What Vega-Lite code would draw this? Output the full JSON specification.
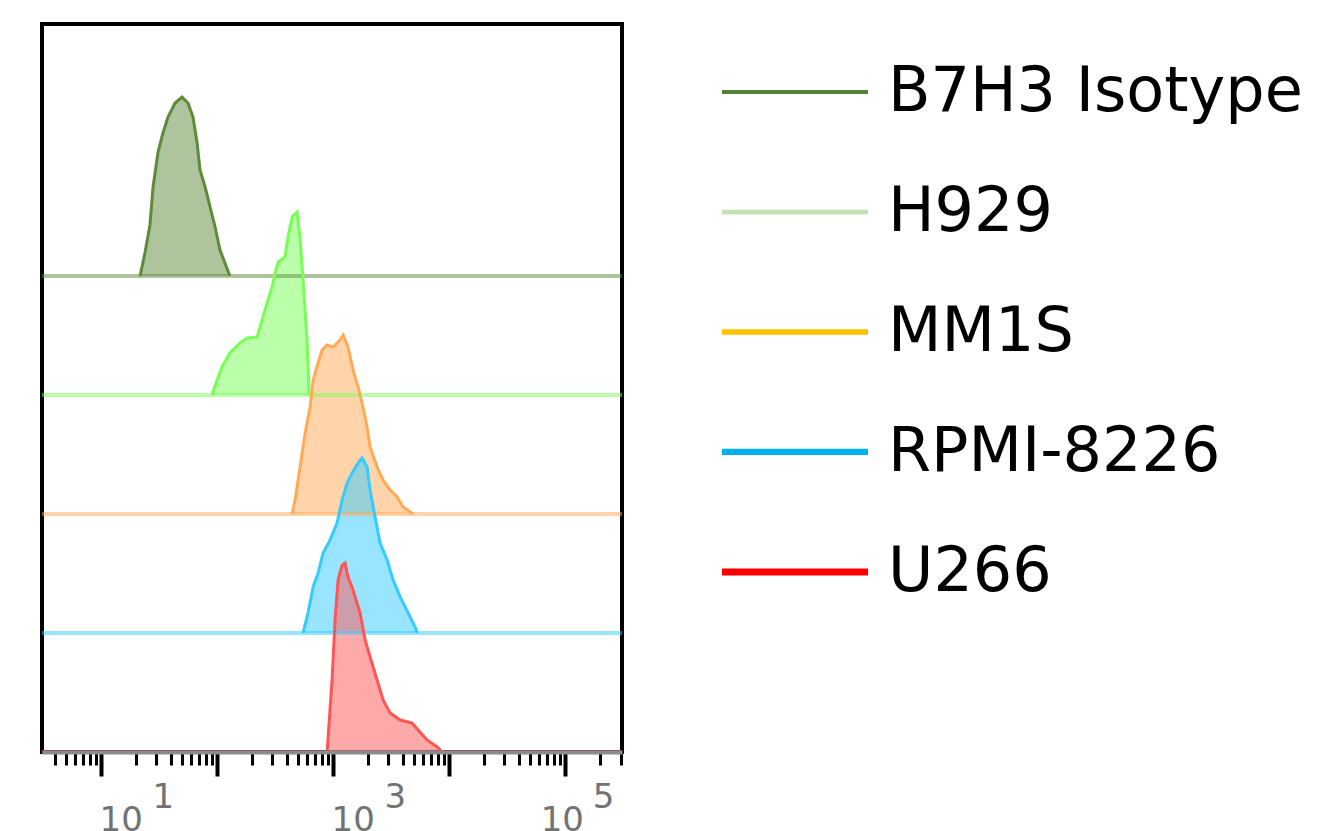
{
  "$schema": "https://vega.github.io/schema/vega-lite/v6.json",
  "autosize": {"type": "pad"},
  "padding": {"left": 38, "top": 22, "right": 0, "bottom": 0},
  "background": "white",
  "spacing": 88,
  "bounds": "flush",
  "resolve": {"scale": {"color": "independent", "strokeWidth": "independent", "fill": "independent"}},
  "config": {
    "view": {"stroke": null},
    "axis": {"grid": false}
  },
  "datasets": {
    "hist": [
      {"s": "B7H3 Isotype", "fl": 21.7, "lvl": 4.0, "base": 4},
      {"s": "B7H3 Isotype", "fl": 23.9, "lvl": 4.193, "base": 4},
      {"s": "B7H3 Isotype", "fl": 26.4, "lvl": 4.429, "base": 4},
      {"s": "B7H3 Isotype", "fl": 28.1, "lvl": 4.748, "base": 4},
      {"s": "B7H3 Isotype", "fl": 31.0, "lvl": 5.042, "base": 4},
      {"s": "B7H3 Isotype", "fl": 34.2, "lvl": 5.202, "base": 4},
      {"s": "B7H3 Isotype", "fl": 37.8, "lvl": 5.336, "base": 4},
      {"s": "B7H3 Isotype", "fl": 43.5, "lvl": 5.454, "base": 4},
      {"s": "B7H3 Isotype", "fl": 49.9, "lvl": 5.504, "base": 4},
      {"s": "B7H3 Isotype", "fl": 56.2, "lvl": 5.454, "base": 4},
      {"s": "B7H3 Isotype", "fl": 62.1, "lvl": 5.336, "base": 4},
      {"s": "B7H3 Isotype", "fl": 67.3, "lvl": 5.118, "base": 4},
      {"s": "B7H3 Isotype", "fl": 71.3, "lvl": 4.891, "base": 4},
      {"s": "B7H3 Isotype", "fl": 78.9, "lvl": 4.748, "base": 4},
      {"s": "B7H3 Isotype", "fl": 87.1, "lvl": 4.58, "base": 4},
      {"s": "B7H3 Isotype", "fl": 96.2, "lvl": 4.412, "base": 4},
      {"s": "B7H3 Isotype", "fl": 106, "lvl": 4.218, "base": 4},
      {"s": "B7H3 Isotype", "fl": 117, "lvl": 4.109, "base": 4},
      {"s": "B7H3 Isotype", "fl": 129, "lvl": 4.0, "base": 4},

      {"s": "H929", "fl": 90.6, "lvl": 3.0, "base": 3},
      {"s": "H929", "fl": 100, "lvl": 3.126, "base": 3},
      {"s": "H929", "fl": 110, "lvl": 3.235, "base": 3},
      {"s": "H929", "fl": 129, "lvl": 3.353, "base": 3},
      {"s": "H929", "fl": 158, "lvl": 3.437, "base": 3},
      {"s": "H929", "fl": 182, "lvl": 3.479, "base": 3},
      {"s": "H929", "fl": 221, "lvl": 3.487, "base": 3},
      {"s": "H929", "fl": 244, "lvl": 3.63, "base": 3},
      {"s": "H929", "fl": 270, "lvl": 3.773, "base": 3},
      {"s": "H929", "fl": 298, "lvl": 3.908, "base": 3},
      {"s": "H929", "fl": 316, "lvl": 4.025, "base": 3},
      {"s": "H929", "fl": 336, "lvl": 4.118, "base": 3},
      {"s": "H929", "fl": 385, "lvl": 4.16, "base": 3},
      {"s": "H929", "fl": 409, "lvl": 4.328, "base": 3},
      {"s": "H929", "fl": 444, "lvl": 4.496, "base": 3},
      {"s": "H929", "fl": 490, "lvl": 4.538, "base": 3},
      {"s": "H929", "fl": 520, "lvl": 4.303, "base": 3},
      {"s": "H929", "fl": 551, "lvl": 3.966, "base": 3},
      {"s": "H929", "fl": 597, "lvl": 3.462, "base": 3},
      {"s": "H929", "fl": 621, "lvl": 3.0, "base": 3},

      {"s": "MM1S", "fl": 444, "lvl": 2.0, "base": 2},
      {"s": "MM1S", "fl": 470, "lvl": 2.118, "base": 2},
      {"s": "MM1S", "fl": 520, "lvl": 2.395, "base": 2},
      {"s": "MM1S", "fl": 574, "lvl": 2.681, "base": 2},
      {"s": "MM1S", "fl": 634, "lvl": 2.899, "base": 2},
      {"s": "MM1S", "fl": 673, "lvl": 3.126, "base": 2},
      {"s": "MM1S", "fl": 743, "lvl": 3.269, "base": 2},
      {"s": "MM1S", "fl": 804, "lvl": 3.378, "base": 2},
      {"s": "MM1S", "fl": 887, "lvl": 3.42, "base": 2},
      {"s": "MM1S", "fl": 1000, "lvl": 3.403, "base": 2},
      {"s": "MM1S", "fl": 1148, "lvl": 3.462, "base": 2},
      {"s": "MM1S", "fl": 1219, "lvl": 3.504, "base": 2},
      {"s": "MM1S", "fl": 1346, "lvl": 3.403, "base": 2},
      {"s": "MM1S", "fl": 1486, "lvl": 3.21, "base": 2},
      {"s": "MM1S", "fl": 1644, "lvl": 3.067, "base": 2},
      {"s": "MM1S", "fl": 1778, "lvl": 2.933, "base": 2},
      {"s": "MM1S", "fl": 1963, "lvl": 2.731, "base": 2},
      {"s": "MM1S", "fl": 2084, "lvl": 2.563, "base": 2},
      {"s": "MM1S", "fl": 2393, "lvl": 2.395, "base": 2},
      {"s": "MM1S", "fl": 2698, "lvl": 2.286, "base": 2},
      {"s": "MM1S", "fl": 3097, "lvl": 2.202, "base": 2},
      {"s": "MM1S", "fl": 3565, "lvl": 2.143, "base": 2},
      {"s": "MM1S", "fl": 4009, "lvl": 2.059, "base": 2},
      {"s": "MM1S", "fl": 4797, "lvl": 2.008, "base": 2},
      {"s": "MM1S", "fl": 4898, "lvl": 2.0, "base": 2},

      {"s": "RPMI-8226", "fl": 551, "lvl": 1.0, "base": 1},
      {"s": "RPMI-8226", "fl": 608, "lvl": 1.168, "base": 1},
      {"s": "RPMI-8226", "fl": 673, "lvl": 1.387, "base": 1},
      {"s": "RPMI-8226", "fl": 743, "lvl": 1.504, "base": 1},
      {"s": "RPMI-8226", "fl": 820, "lvl": 1.672, "base": 1},
      {"s": "RPMI-8226", "fl": 942, "lvl": 1.782, "base": 1},
      {"s": "RPMI-8226", "fl": 1081, "lvl": 1.924, "base": 1},
      {"s": "RPMI-8226", "fl": 1197, "lvl": 2.118, "base": 1},
      {"s": "RPMI-8226", "fl": 1321, "lvl": 2.261, "base": 1},
      {"s": "RPMI-8226", "fl": 1459, "lvl": 2.345, "base": 1},
      {"s": "RPMI-8226", "fl": 1644, "lvl": 2.429, "base": 1},
      {"s": "RPMI-8226", "fl": 1778, "lvl": 2.471, "base": 1},
      {"s": "RPMI-8226", "fl": 1963, "lvl": 2.395, "base": 1},
      {"s": "RPMI-8226", "fl": 2084, "lvl": 2.202, "base": 1},
      {"s": "RPMI-8226", "fl": 2301, "lvl": 1.975, "base": 1},
      {"s": "RPMI-8226", "fl": 2541, "lvl": 1.756, "base": 1},
      {"s": "RPMI-8226", "fl": 2924, "lvl": 1.613, "base": 1},
      {"s": "RPMI-8226", "fl": 3289, "lvl": 1.445, "base": 1},
      {"s": "RPMI-8226", "fl": 3784, "lvl": 1.303, "base": 1},
      {"s": "RPMI-8226", "fl": 4436, "lvl": 1.168, "base": 1},
      {"s": "RPMI-8226", "fl": 5093, "lvl": 1.05, "base": 1},
      {"s": "RPMI-8226", "fl": 5297, "lvl": 1.0, "base": 1},

      {"s": "U266", "fl": 888, "lvl": 0.0, "base": 0},
      {"s": "U266", "fl": 980, "lvl": 0.605, "base": 0},
      {"s": "U266", "fl": 1040, "lvl": 1.109, "base": 0},
      {"s": "U266", "fl": 1104, "lvl": 1.445, "base": 0},
      {"s": "U266", "fl": 1197, "lvl": 1.571, "base": 0},
      {"s": "U266", "fl": 1268, "lvl": 1.588, "base": 0},
      {"s": "U266", "fl": 1346, "lvl": 1.471, "base": 0},
      {"s": "U266", "fl": 1486, "lvl": 1.361, "base": 0},
      {"s": "U266", "fl": 1710, "lvl": 1.168, "base": 0},
      {"s": "U266", "fl": 1888, "lvl": 0.941, "base": 0},
      {"s": "U266", "fl": 2084, "lvl": 0.798, "base": 0},
      {"s": "U266", "fl": 2393, "lvl": 0.605, "base": 0},
      {"s": "U266", "fl": 2698, "lvl": 0.437, "base": 0},
      {"s": "U266", "fl": 3097, "lvl": 0.328, "base": 0},
      {"s": "U266", "fl": 3784, "lvl": 0.269, "base": 0},
      {"s": "U266", "fl": 4797, "lvl": 0.244, "base": 0},
      {"s": "U266", "fl": 5408, "lvl": 0.185, "base": 0},
      {"s": "U266", "fl": 6457, "lvl": 0.101, "base": 0},
      {"s": "U266", "fl": 7889, "lvl": 0.042, "base": 0},
      {"s": "U266", "fl": 8710, "lvl": 0.0, "base": 0}
    ],
    "lanes": [
      {"s": "B7H3 Isotype", "base": 4},
      {"s": "H929", "base": 3},
      {"s": "MM1S", "base": 2},
      {"s": "RPMI-8226", "base": 1},
      {"s": "U266", "base": 0}
    ]
  },
  "hconcat": [
    {
      "width": 580,
      "height": 728,
      "view": {"stroke": "black", "strokeWidth": 4},
      "resolve": {"axis": {"x": "independent"}},
      "layer": [
        {
          "data": {"name": "hist"},
          "mark": {"type": "area", "fillOpacity": 0.5, "interpolate": "linear"},
          "encoding": {
            "x": {"field": "fl", "type": "quantitative", "scale": {"type": "log", "domain": [3.1, 309000], "nice": false},
              "axis": {
                "title": null,
                "orient": "bottom",
                "values": [10, 1000, 100000],
                "domain": false,
                "ticks": false,
                "tickSize": 0,
                "labelExpr": "datum.value == 10 ? '1' : datum.value == 1000 ? '3' : '5'",
                "labelFont": "DejaVu Sans",
                "labelFontSize": 34,
                "labelColor": "#727272",
                "labelAlign": "left",
                "labelBaseline": "top",
                "labelPadding": 28,
                "labelOffset": {"condition": {"test": "datum.value == 100000", "value": 27}, "value": 51},
                "labelOverlap": false,
                "labelFlush": false,
                "labelBound": false,
                "zindex": 1
              }
            },
            "y": {"field": "lvl", "type": "quantitative", "scale": {"domain": [0, 6.118], "nice": false, "zero": false}, "axis": null},
            "y2": {"field": "base"},
            "fill": {"field": "s", "type": "nominal",
              "scale": {"domain": ["B7H3 Isotype", "H929", "MM1S", "RPMI-8226", "U266"], "range": ["#5e8a3a", "#77ff55", "#ffaa55", "#33ccff", "#ff5555"]},
              "legend": null}
          }
        },
        {
          "data": {"name": "lanes"},
          "mark": {"type": "rule", "strokeWidth": 4, "opacity": 0.5},
          "encoding": {
            "y": {"field": "base", "type": "quantitative"},
            "color": {"field": "s", "type": "nominal",
              "scale": {"domain": ["B7H3 Isotype", "H929", "MM1S", "RPMI-8226", "U266"], "range": ["#5e8a3a", "#77ff55", "#ffaa55", "#33ccff", "#ff5555"]},
              "legend": null}
          }
        },
        {
          "data": {"name": "hist"},
          "mark": {"type": "line", "strokeWidth": 3, "interpolate": "linear"},
          "encoding": {
            "x": {"field": "fl", "type": "quantitative",
              "axis": {
                "title": null,
                "orient": "bottom",
                "values": [4,5,6,7,8,9,10,20,30,40,50,60,70,80,90,100,200,300,400,500,600,700,800,900,1000,2000,3000,4000,5000,6000,7000,8000,9000,10000,20000,30000,40000,50000,60000,70000,80000,90000,100000,200000,300000],
                "domainColor": "#8c8c8c",
                "domainWidth": 4,
                "tickColor": "black",
                "tickWidth": {"condition": {"test": "indexof([10,100,1000,10000,100000], datum.value) >= 0", "value": 4}, "value": 3},
                "tickSize": {"condition": {"test": "indexof([10,100,1000,10000,100000], datum.value) >= 0", "value": 24}, "value": 13},
                "labelExpr": "indexof([10,1000,100000], datum.value) >= 0 ? '10' : ''",
                "labelFont": "DejaVu Sans",
                "labelFontSize": 34,
                "labelColor": "#727272",
                "labelAlign": "left",
                "labelBaseline": "top",
                "labelPadding": 27,
                "labelOffset": {"condition": {"test": "datum.value == 100000", "value": -25}, "value": -2},
                "labelOverlap": false,
                "labelFlush": false,
                "labelBound": false,
                "zindex": 1
              }
            },
            "y": {"field": "lvl", "type": "quantitative"},
            "color": {"field": "s", "type": "nominal", "legend": null}
          }
        }
      ]
    },
    {
      "width": 600,
      "height": 616,
      "data": {"name": "lanes"},
      "encoding": {
        "y": {"field": "s", "type": "nominal", "sort": null, "scale": {"type": "point", "padding": 0.5667}, "axis": null}
      },
      "layer": [
        {
          "mark": {"type": "rule"},
          "encoding": {
            "x": {"datum": 12, "type": "quantitative", "scale": {"domain": [0, 600], "nice": false, "zero": false}, "axis": null},
            "x2": {"datum": 158},
            "color": {"field": "s", "type": "nominal",
              "scale": {"domain": ["B7H3 Isotype", "H929", "MM1S", "RPMI-8226", "U266"], "range": ["#548235", "#c5e0b4", "#ffc000", "#00b0f0", "#ff0000"]},
              "legend": null},
            "strokeWidth": {"field": "s", "type": "ordinal",
              "scale": {"domain": ["B7H3 Isotype", "H929", "MM1S", "RPMI-8226", "U266"], "range": [4, 7, 4, 4, 4]},
              "legend": null}
          }
        },
        {
          "mark": {"type": "text", "align": "left", "baseline": "middle", "font": "DejaVu Sans", "fontSize": 62, "color": "black"},
          "encoding": {
            "x": {"datum": 178, "type": "quantitative"},
            "text": {"field": "s", "type": "nominal"}
          }
        }
      ]
    }
  ]
}
